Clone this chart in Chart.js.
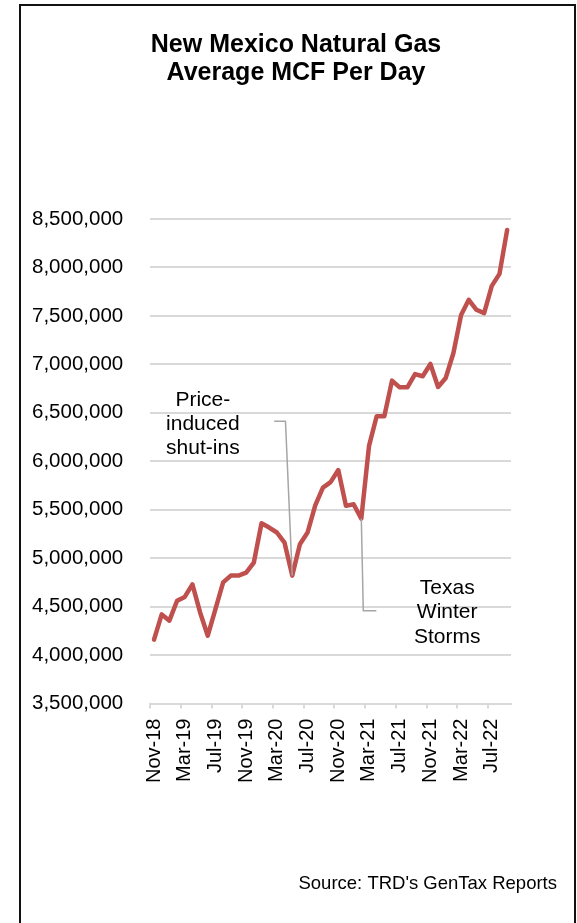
<!DOCTYPE html>
<html>
<head>
<meta charset="utf-8">
<script src="https://cdn.jsdelivr.net/npm/chart.js@4/dist/chart.umd.min.js"></script>
<style>
  html, body { margin: 0; padding: 0; background: #fff; }
  #wrap { position: relative; width: 577px; height: 923px; }
</style>
</head>
<body>
<div id="wrap"><canvas id="graph" width="577" height="923"></canvas></div>
<script>
// monthly, Nov-18 .. Sep-22
var months = [
  'Nov-18','Dec-18','Jan-19','Feb-19','Mar-19','Apr-19','May-19','Jun-19','Jul-19','Aug-19','Sep-19','Oct-19',
  'Nov-19','Dec-19','Jan-20','Feb-20','Mar-20','Apr-20','May-20','Jun-20','Jul-20','Aug-20','Sep-20','Oct-20',
  'Nov-20','Dec-20','Jan-21','Feb-21','Mar-21','Apr-21','May-21','Jun-21','Jul-21','Aug-21','Sep-21','Oct-21',
  'Nov-21','Dec-21','Jan-22','Feb-22','Mar-22','Apr-22','May-22','Jun-22','Jul-22','Aug-22','Sep-22'
];
var mcfPerDay = [
  4160000, 4420000, 4355000, 4560000, 4600000, 4730000, 4440000, 4200000, 4475000, 4750000, 4820000, 4820000,
  4850000, 4955000, 5360000, 5316000, 5265000, 5160000, 4820000, 5144000, 5265000, 5545000, 5728000, 5785000,
  5909000, 5540000, 5556000, 5408000, 6156000, 6465000, 6465000, 6832000, 6763000, 6763000, 6900000, 6877000,
  7004000, 6767000, 6860000, 7117000, 7510000, 7666000, 7563000, 7529000, 7810000, 7934000, 8387000
];
var yMin = 3500000, yMax = 8500000, yStep = 500000;
var labelEvery = 4;

var titleLines = ['New Mexico Natural Gas', 'Average MCF Per Day'];
var sourceText = "Source: TRD's GenTax Reports";

// callouts, anchored in data coordinates (category index, value)
var notes = [
  { lines: ['Price-', 'induced', 'shut-ins'], x: 6.36, y: 6575000,
    leader: [[15.65, 6413000], [17.12, 6413000], [18, 4820000]] },
  { lines: ['Texas', 'Winter', 'Storms'], x: 38.19, y: 4629000,
    leader: [[27, 5408000], [27.26, 4457000], [28.96, 4457000]] }
];

var FONT = "'Liberation Sans', Arial, sans-serif";

var extras = {
  id: 'extras',
  beforeDraw: function (chart) {
    var c = chart.ctx;
    c.save();
    c.fillStyle = '#fff';
    c.fillRect(0, 0, chart.width, chart.height);
    c.strokeStyle = '#111';
    c.lineWidth = 2;
    c.strokeRect(20, 5, 555, 960);
    c.restore();
  },
  afterDraw: function (chart) {
    var c = chart.ctx, xs = chart.scales.x, ys = chart.scales.y;
    c.save();
    // title
    c.fillStyle = '#000';
    c.textAlign = 'center';
    c.textBaseline = 'alphabetic';
    c.font = 'bold 25px ' + FONT;
    c.fillText(titleLines[0], 296, 52);
    c.fillText(titleLines[1], 296, 79.5);
    // source
    c.font = '18.5px ' + FONT;
    c.textAlign = 'right';
    c.fillText(sourceText, 557, 889);
    // callouts
    c.strokeStyle = '#a6a6a6';
    c.lineWidth = 1.5;
    notes.forEach(function (n) {
      c.beginPath();
      n.leader.forEach(function (p, i) {
        var px = xs.getPixelForValue(p[0]), py = ys.getPixelForValue(p[1]);
        if (i === 0) c.moveTo(px, py); else c.lineTo(px, py);
      });
      c.stroke();
      c.font = '21px ' + FONT;
      c.textAlign = 'center';
      c.fillStyle = '#000';
      var tx = xs.getPixelForValue(n.x), ty = ys.getPixelForValue(n.y);
      n.lines.forEach(function (t, i) { c.fillText(t, tx, ty + i * 24.2); });
    });
    c.restore();
  }
};

var context = document.getElementById('graph').getContext('2d');
const chart = new Chart(context, {
  type: 'line',
  data: {
    labels: months,
    datasets: [{
      label: 'Average MCF Per Day',
      data: mcfPerDay,
      borderColor: '#C0504D',
      borderWidth: 4.5,
      borderJoinStyle: 'round',
      borderCapStyle: 'round',
      pointRadius: 0,
      tension: 0,
      fill: false
    }]
  },
  options: {
    responsive: false,
    animation: false,
    devicePixelRatio: 1,
    layout: { padding: { top: 219, left: 5, right: 66, bottom: 130 } },
    plugins: {
      legend: { display: false },
      tooltip: { enabled: false },
      title: { display: false }
    },
    scales: {
      x: {
        type: 'category',
        offset: true,
        afterFit: function (s) { s.paddingLeft = 0; s.paddingRight = 0; },
        grid: {
          offset: true,
          drawOnChartArea: false,
          drawTicks: true,
          tickLength: 5,
          lineWidth: 2,
          color: function (ctx) { return ctx.index % labelEvery === 0 ? '#d9d9d9' : 'rgba(0,0,0,0)'; }
        },
        border: { display: true, color: '#d9d9d9', width: 2 },
        ticks: {
          autoSkip: false,
          minRotation: 90,
          maxRotation: 90,
          padding: 10,
          color: '#000',
          font: { family: FONT, size: 20 },
          callback: function (v, i) { return i % labelEvery === 0 ? months[i] : ''; }
        }
      },
      y: {
        min: yMin,
        max: yMax,
        border: { display: false },
        grid: { color: '#d9d9d9', lineWidth: 2, drawTicks: false },
        ticks: {
          stepSize: yStep,
          padding: 27,
          color: '#000',
          font: { family: FONT, size: 20.5 },
          callback: function (v) { return v.toLocaleString('en-US'); }
        }
      }
    }
  },
  plugins: [extras]
});
</script>
</body>
</html>
